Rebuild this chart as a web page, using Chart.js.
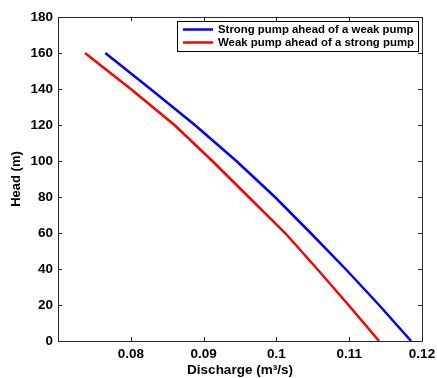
<!DOCTYPE html>
<html>
<head>
<meta charset="utf-8">
<script src="https://cdn.jsdelivr.net/npm/chart.js@4.4.0/dist/chart.umd.min.js"></script>
<style>
    html, body { margin: 0; padding: 0; background: #fff; }
    #chart { display: block; }
</style>
</head>
<body>
<canvas id="chart" width="437" height="378"></canvas>
<script>
"use strict"

// pump curves - head (m) vs discharge (m3/s)
const headLevels = [160, 140, 120, 100, 80, 60, 40, 20, 0];
const strongFirstQ = [0.0765, 0.0827, 0.0888, 0.0945, 0.0998, 0.1047, 0.1095, 0.1141, 0.1185];
const weakFirstQ = [0.0737, 0.0800, 0.0860, 0.0912, 0.0962, 0.1012, 0.1056, 0.1099, 0.1141];
const seriesNames = ["Strong pump ahead of a weak pump", "Weak pump ahead of a strong pump"];
const seriesColors = ["#0000ff", "#ff0000"];

// axes
const xTicks = [0.08, 0.09, 0.1, 0.11, 0.12];
const yTicks = [0, 20, 40, 60, 80, 100, 120, 140, 160, 180];
const xRange = [0.07, 0.12];
const yRange = [0, 180];

const fontFamily = "'Liberation Sans', Arial, Helvetica, sans-serif";


function toPoints(qs) {
    return qs.map((q, i) => ({ x: q, y: headLevels[i] }));
}


// matlab style box with inward ticks
const boxPlugin = {
    id: "box",
    afterDatasetsDraw(chart) {
        const ctx = chart.ctx;
        const a = chart.chartArea;
        const len = 4;
        ctx.save();
        ctx.strokeStyle = "#262626";
        ctx.lineWidth = 1;
        ctx.beginPath();
        chart.scales.x.ticks.forEach(t => {
            const px = Math.round(chart.scales.x.getPixelForValue(t.value)) + 0.5;
            ctx.moveTo(px, a.bottom);
            ctx.lineTo(px, a.bottom - len);
            ctx.moveTo(px, a.top);
            ctx.lineTo(px, a.top + len);
        });
        chart.scales.y.ticks.forEach(t => {
            const py = Math.round(chart.scales.y.getPixelForValue(t.value)) + 0.5;
            ctx.moveTo(a.left, py);
            ctx.lineTo(a.left + len, py);
            ctx.moveTo(a.right, py);
            ctx.lineTo(a.right - len, py);
        });
        ctx.stroke();
        ctx.strokeRect(Math.round(a.left) + 0.5, Math.round(a.top) + 0.5,
            Math.round(a.right - a.left), Math.round(a.bottom - a.top));
        ctx.restore();
    }
};


// legend inside the axes, top right corner
const legendPlugin = {
    id: "boxLegend",
    afterDraw(chart) {
        const ctx = chart.ctx;
        const a = chart.chartArea;
        ctx.save();
        ctx.font = "bold 11.4px " + fontFamily;
        const names = chart.data.datasets.map(d => d.label);
        const textW = Math.max(...names.map(n => ctx.measureText(n).width));
        const lineLen = 30;
        const rowH = 13;
        const boxW = 6 + lineLen + 5 + textW + 4;
        const boxH = names.length * rowH + 4;
        const right = Math.round(a.right) - 4;
        const top = Math.round(a.top) + 4;
        const left = right - Math.round(boxW);

        ctx.fillStyle = "#fff";
        ctx.fillRect(left, top, right - left, boxH);
        ctx.strokeStyle = "#000";
        ctx.lineWidth = 1;
        ctx.strokeRect(left + 0.5, top + 0.5, right - left, boxH);

        chart.data.datasets.forEach((d, i) => {
            const cy = top + 8.5 + i * rowH;
            ctx.strokeStyle = d.borderColor;
            ctx.lineWidth = 2.5;
            ctx.beginPath();
            ctx.moveTo(left + 6, cy);
            ctx.lineTo(left + 6 + lineLen, cy);
            ctx.stroke();
            ctx.fillStyle = "#000";
            ctx.textBaseline = "middle";
            ctx.textAlign = "left";
            ctx.fillText(d.label, left + 6 + lineLen + 5, cy + 0.5);
        });
        ctx.restore();
    }
};


const data = {
    datasets: [
        {
            label: seriesNames[0],
            data: toPoints(strongFirstQ),
            borderColor: seriesColors[0],
            borderWidth: 2.5,
            pointRadius: 0,
            fill: false,
            tension: 0
        },
        {
            label: seriesNames[1],
            data: toPoints(weakFirstQ),
            borderColor: seriesColors[1],
            borderWidth: 2.5,
            pointRadius: 0,
            fill: false,
            tension: 0
        }
    ]
};

const config = {
    type: "line",
    data: data,
    options: {
        responsive: false,
        animation: false,
        layout: {
            padding: { top: 17, right: 15, left: 0, bottom: 0 }
        },
        plugins: {
            legend: { display: false },
            tooltip: { enabled: false }
        },
        scales: {
            x: {
                type: "linear",
                min: xRange[0],
                max: xRange[1],
                afterBuildTicks: scale => { scale.ticks = xTicks.map(v => ({ value: v })); },
                // fixed axis box, labels may overhang the padding
                afterFit: scale => {
                    scale.height = 37;
                    scale.paddingLeft = 0;
                    scale.paddingRight = 0;
                },
                grid: { display: false, drawTicks: false },
                border: { display: false },
                ticks: {
                    padding: 5,
                    color: "#000",
                    font: { family: fontFamily, size: 13.5, weight: "bold" },
                    callback: v => String(v)
                },
                title: {
                    display: true,
                    text: "Discharge (m³/s)",
                    color: "#000",
                    padding: { top: 0, bottom: 0 },
                    font: { family: fontFamily, size: 13.5, weight: "bold" }
                }
            },
            y: {
                min: yRange[0],
                max: yRange[1],
                afterBuildTicks: scale => { scale.ticks = yTicks.map(v => ({ value: v })); },
                afterFit: scale => {
                    scale.width = 58;
                    scale.paddingTop = 0;
                    scale.paddingBottom = 0;
                },
                grid: { display: false, drawTicks: false },
                border: { display: false },
                ticks: {
                    padding: 5,
                    color: "#000",
                    font: { family: fontFamily, size: 13.5, weight: "bold" }
                },
                title: {
                    display: true,
                    text: "Head (m)",
                    color: "#000",
                    padding: { top: 9, bottom: 0 },
                    font: { family: fontFamily, size: 13, weight: "bold" }
                }
            }
        }
    },
    plugins: [boxPlugin, legendPlugin]
};

let ctx = document.querySelector("#chart");
let pumpChart = new Chart(ctx, config);
</script>
</body>
</html>
